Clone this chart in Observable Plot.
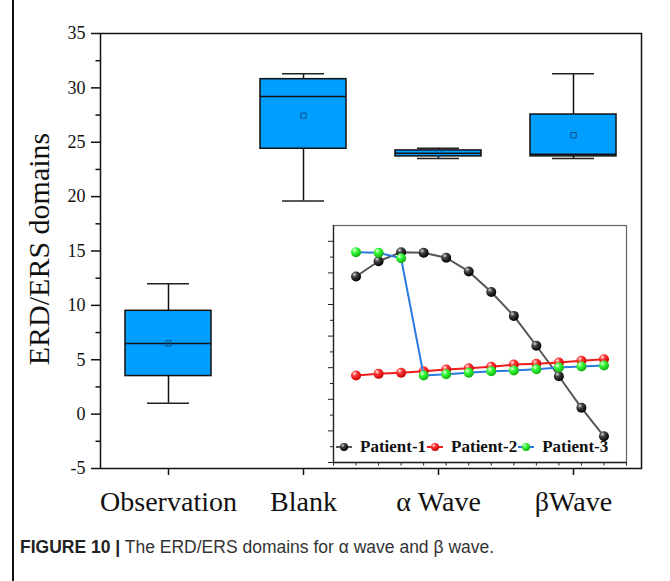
<!DOCTYPE html>
<html><head><meta charset="utf-8">
<script src="https://cdn.jsdelivr.net/npm/d3@7"></script>
<script src="https://cdn.jsdelivr.net/npm/@observablehq/plot@0.6"></script>
<style>
body{margin:0;background:#fff;}
#wrap{position:relative;width:670px;height:581px;overflow:hidden;background:#fff;}
#border{position:absolute;left:12px;top:0;width:1.5px;height:581px;background:#111;}
#main{position:absolute;left:0;top:0;}
#inset{position:absolute;left:323px;top:224px;}
#legend{position:absolute;left:336px;top:438px;height:18px;display:flex;align-items:center;font:bold 17px "Liberation Serif","Times New Roman",serif;color:#111;white-space:nowrap;}
#legend .sym{display:inline-block;width:16px;height:10px;margin-right:8px;}
#legend .item{display:flex;align-items:center;margin-right:1px;}
#caption{position:absolute;left:20px;top:537px;font:17.5px "Liberation Sans",Arial,sans-serif;color:#333;white-space:nowrap;}
#caption b{color:#222;}
</style></head>
<body><div id="wrap"><div id="border"></div><div id="main"></div><div id="inset"></div><div id="legend"></div>
<div id="caption"><b>FIGURE 10 |</b> The ERD/ERS domains for α wave and β wave.</div></div>
<script>
// ---- main box chart data ----
const categories = ["Observation", "Blank", "α Wave", "βWave"];
const whiskerLow  = [1, 19.6, 23.5, 23.5];
const quart1      = [3.5, 24.4, 23.7, 23.7];
const median      = [6.5, 29.2, 24.0, 23.9];
const quart3      = [9.5, 30.8, 24.25, 27.55];
const whiskerHigh = [12, 31.3, 24.45, 31.3];
const mean        = [6.5, 27.45, 24.0, 25.65];
const yTicks = [-5, 0, 5, 10, 15, 20, 25, 30, 35];
const yMinorTicks = [-2.5, 2.5, 7.5, 12.5, 17.5, 22.5, 27.5, 32.5];
const yLabel = "ERD/ERS domains";

// ---- inset data ----
const trials = [1, 2, 3, 4, 5, 6, 7, 8, 9, 10, 11, 12];
const patient1 = [11.77, 12.74, 13.31, 13.27, 12.96, 12.09, 10.79, 9.28, 7.39, 5.46, 3.46, 1.66];
const patient2 = [5.51, 5.61, 5.68, 5.78, 5.89, 5.97, 6.06, 6.20, 6.25, 6.33, 6.44, 6.54];
const patient3 = [13.31, 13.27, 12.93, 5.51, 5.59, 5.68, 5.77, 5.82, 5.90, 6.01, 6.08, 6.14];
const seriesNames = ["Patient-1", "Patient-2", "Patient-3"];
const insetXTicks = [0,1,2,3,4,5,6,7,8,9,10,11,12,13];
const insetYMajor = [0,2,4,6,8,10,12,14];
const insetYMinor = [1,3,5,7,9,11,13];

const serif = "'Liberation Serif','Times New Roman',serif";
const boxes = categories.map((c, i) => ({cat: c, lo: whiskerLow[i], q1: quart1[i], med: median[i], q3: quart3[i], hi: whiskerHigh[i], mean: mean[i]}));

const main = Plot.plot({
  width: 670, height: 530,
  marginLeft: 100, marginRight: 29, marginTop: 33, marginBottom: 62,
  style: {background: "transparent", fontFamily: serif, color: "#111"},
  x: {type: "band", domain: categories, paddingInner: 0.364, paddingOuter: 0.182, label: null},
  y: {domain: [-5, 35], label: null},
  marks: [
    Plot.ruleX(boxes, {x: "cat", y1: "lo", y2: "hi", stroke: "#111", strokeWidth: 1.5}),
    Plot.tickY(boxes, {x: "cat", y: "lo", insetLeft: 22, insetRight: 22, stroke: "#222", strokeWidth: 1.5}),
    Plot.tickY(boxes, {x: "cat", y: "hi", insetLeft: 22, insetRight: 22, stroke: "#222", strokeWidth: 1.5}),
    Plot.barY(boxes, {x: "cat", y1: "q1", y2: "q3", fill: "#009EFF", stroke: "#111", strokeWidth: 1.5}),
    Plot.tickY(boxes, {x: "cat", y: "med", stroke: "#111", strokeWidth: 1.5}),
    Plot.dot(boxes, {x: "cat", y: "mean", symbol: "square", r: 3, stroke: "#0b4f86", strokeWidth: 1, fill: "none"}),
    Plot.axisY({anchor: "left", ticks: yTicks, tickSize: 9, tickPadding: 6, fontSize: 18, tickFormat: d => String(d), strokeWidth: 1.5}),
    Plot.axisY({anchor: "left", ticks: yMinorTicks, tickSize: 4.5, text: null, strokeWidth: 1.5}),
    Plot.axisX({anchor: "bottom", tickSize: 7, tickPadding: 16, fontSize: 28, strokeWidth: 1.5}),
    Plot.frame({stroke: "#111", strokeWidth: 1.5}),
    Plot.text([yLabel], {text: d => d, frameAnchor: "left", textAnchor: "middle", lineAnchor: "middle", rotate: -90, dx: -61, dy: -2, fontSize: 30, fill: "#111"})
  ]
});
document.getElementById("main").appendChild(main);

const colors = {line: ["#555555", "#ee1c1c", "#2b7be0"], grad: ["gBlack", "gRed", "gGreen"]};
const seriesVals = [patient1, patient2, patient3];
const insetMarks = [
  Plot.frame({fill: "white", stroke: "#666", strokeWidth: 1.2}),
  Plot.axisX({anchor: "bottom", ticks: insetXTicks, tickSize: 3.5, text: null, stroke: "#222"}),
  Plot.axisY({anchor: "left", ticks: insetYMajor, tickSize: 5, text: null, stroke: "#222"}),
  Plot.axisY({anchor: "left", ticks: insetYMinor, tickSize: 3, text: null, stroke: "#222"}),
  Plot.ruleX([0], {stroke: "#222", strokeWidth: 1.3}),
  Plot.ruleY([0], {stroke: "#222", strokeWidth: 1.3})
];
seriesVals.forEach((vals, k) => {
  insetMarks.push(Plot.line(trials, {x: d => d, y: (d, i) => vals[i], stroke: colors.line[k], strokeWidth: 2}));
  insetMarks.push(Plot.dot(trials, {x: d => d, y: (d, i) => vals[i], r: 5, fill: `url(#${colors.grad[k]})`, stroke: "none"}));
});
const inset = Plot.plot({
  width: 305, height: 244,
  marginLeft: 10, marginRight: 2, marginTop: 1, marginBottom: 6,
  style: {background: "transparent"},
  x: {domain: [0, 13], label: null},
  y: {domain: [0, 15], label: null},
  marks: insetMarks
});
const gradStops = {
  gBlack: ["#d8d8d8", "#444", "#000"],
  gRed: ["#fff2f2", "#ff3b3b", "#c80000"],
  gGreen: ["#f2fff2", "#3cff3c", "#10b010"]
};
const defs = d3.select(inset).insert("defs", ":first-child");
Object.entries(gradStops).forEach(([id, s]) => {
  const g = defs.append("radialGradient").attr("id", id).attr("cx", "35%").attr("cy", "30%").attr("r", "70%");
  g.append("stop").attr("offset", "0").attr("stop-color", s[0]);
  g.append("stop").attr("offset", "0.35").attr("stop-color", s[1]);
  g.append("stop").attr("offset", "1").attr("stop-color", s[2]);
});
document.getElementById("inset").appendChild(inset);

const legend = document.getElementById("legend");
seriesNames.forEach((name, k) => {
  const item = document.createElement("div");
  item.className = "item";
  item.innerHTML = `<svg class="sym" viewBox="0 0 16 10"><line x1="0" y1="5" x2="16" y2="5" stroke="${colors.line[k]}" stroke-width="2"/><circle cx="8" cy="5" r="4" fill="url(#${colors.grad[k]})"/></svg><span>${name}</span>`;
  legend.appendChild(item);
});
</script>
</body></html>
